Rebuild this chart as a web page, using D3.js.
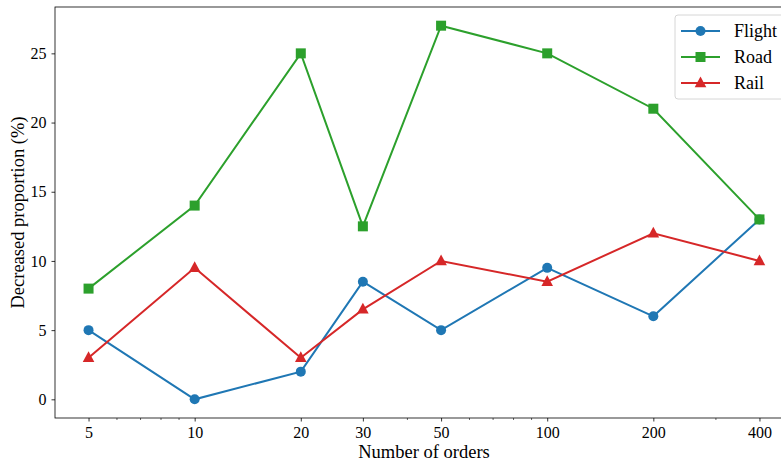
<!DOCTYPE html>
<html>
<head>
<meta charset="utf-8">
<script src="https://cdn.jsdelivr.net/npm/d3@7"></script>
<style>
  body { margin: 0; background: #fff; }
  svg text { font-family: "Liberation Serif", "Times New Roman", serif; }
</style>
</head>
<body>
<script>
// data
var orders = [5, 10, 20, 30, 50, 100, 200, 400];
var flight = [5, 0, 2, 8.5, 5, 9.5, 6, 13];
var road = [8, 14, 25, 12.5, 27, 25, 21, 13];
var rail = [3, 9.5, 3, 6.5, 10, 8.5, 12, 10];
var yTicks = [0, 5, 10, 15, 20, 25];
var seriesNames = ["Flight", "Road", "Rail"];

var series = [
  {name: seriesNames[0], values: flight, color: "#1f77b4", marker: "circle"},
  {name: seriesNames[1], values: road, color: "#2ca02c", marker: "square"},
  {name: seriesNames[2], values: rail, color: "#d62728", marker: "triangle"}
];

//plot area (right edge runs past the window, like the reference)
var margin = {left: 55, top: 7, right: -12, bottom: 44};
var W = 781, H = 462;
var width = W - margin.left - margin.right,
    height = H - margin.top - margin.bottom;

var svg = d3.select("body").append("svg")
    .attr("width", W)
    .attr("height", H);

var g = svg.append("g")
    .attr("transform", "translate(" + margin.left + "," + margin.top + ")");

// log x with 5% padding like matplotlib
var lx0 = Math.log10(5), lx1 = Math.log10(400), pad = (lx1 - lx0) * 0.05;
var x = d3.scaleLog()
    .domain([Math.pow(10, lx0 - pad), Math.pow(10, lx1 + pad)])
    .range([0, width]);

var y = d3.scaleLinear()
    .domain([-1.35, 28.35])
    .range([height, 0]);

// minor ticks
var minors = [];
[1, 10, 100].forEach(function(dec) {
  for (var k = 2; k <= 9; k++) {
    var v = k * dec;
    if (v > x.domain()[0] && v < x.domain()[1] && orders.indexOf(v) < 0) minors.push(v);
  }
});

g.append("g")
    .attr("transform", "translate(0," + height + ")")
    .call(d3.axisBottom(x).tickValues(minors).tickSize(2).tickFormat(""))
    .call(function(s) { s.select(".domain").remove(); s.selectAll("line").attr("stroke-width", 0.6); });

var xAxis = g.append("g")
    .attr("transform", "translate(0," + height + ")")
    .call(d3.axisBottom(x).tickValues(orders).tickSize(3.5).tickPadding(5).tickFormat(d3.format("d")));
xAxis.attr("font-family", null);
xAxis.select(".domain").remove();
xAxis.selectAll("line").attr("stroke-width", 0.8);
xAxis.selectAll("text").attr("font-size", 16).attr("fill", "#000");

var yAxis = g.append("g")
    .call(d3.axisLeft(y).tickValues(yTicks).tickSize(3.5).tickPadding(5));
yAxis.attr("font-family", null);
yAxis.select(".domain").remove();
yAxis.selectAll("line").attr("stroke-width", 0.8);
yAxis.selectAll("text").attr("font-size", 16).attr("fill", "#000");

// frame
g.append("rect")
    .attr("width", width)
    .attr("height", height)
    .attr("fill", "none")
    .attr("stroke", "#000")
    .attr("stroke-width", 0.8);

var line = d3.line()
    .x(function(d, i) { return x(orders[i]); })
    .y(function(d) { return y(d); });

function drawMarker(sel, type, color) {
  if (type == "circle") {
    sel.append("circle").attr("r", 5).attr("fill", color);
  } else if (type == "square") {
    sel.append("rect").attr("x", -5).attr("y", -5).attr("width", 10).attr("height", 10).attr("fill", color);
  } else {
    sel.append("path").attr("d", "M0,-6.5L5.8,4.2L-5.8,4.2Z").attr("fill", color);
  }
}

series.forEach(function(s) {
  g.append("path")
      .datum(s.values)
      .attr("fill", "none")
      .attr("stroke", s.color)
      .attr("stroke-width", 2)
      .attr("d", line);

  g.selectAll(".m-" + s.marker)
      .data(s.values)
      .enter().append("g")
      .attr("class", "m-" + s.marker)
      .attr("transform", function(d, i) { return "translate(" + x(orders[i]) + "," + y(d) + ")"; })
      .each(function() { drawMarker(d3.select(this), s.marker, s.color); });
});

// axis labels
svg.append("text")
    .attr("x", margin.left + x(Math.sqrt(5 * 400)))
    .attr("y", 458)
    .attr("text-anchor", "middle")
    .attr("font-size", 18.5)
    .text("Number of orders");

svg.append("text")
    .attr("transform", "translate(24," + (margin.top + height / 2) + ") rotate(-90)")
    .attr("text-anchor", "middle")
    .attr("font-size", 18.5)
    .text("Decreased proportion (%)");

// legend
var leg = svg.append("g").attr("transform", "translate(675,15)");
leg.append("rect")
    .attr("width", 112).attr("height", 84)
    .attr("rx", 3)
    .attr("fill", "#fff").attr("fill-opacity", 0.8)
    .attr("stroke", "#ccc").attr("stroke-width", 0.8);

series.forEach(function(s, i) {
  var row = leg.append("g").attr("transform", "translate(0," + (16 + i * 26) + ")");
  row.append("line").attr("x1", 6).attr("x2", 45).attr("stroke", s.color).attr("stroke-width", 2);
  var mk = row.append("g").attr("transform", "translate(25.5,0)");
  drawMarker(mk, s.marker, s.color);
  row.append("text").attr("x", 59).attr("y", 6).attr("font-size", 18).text(s.name);
});
</script>
</body>
</html>
